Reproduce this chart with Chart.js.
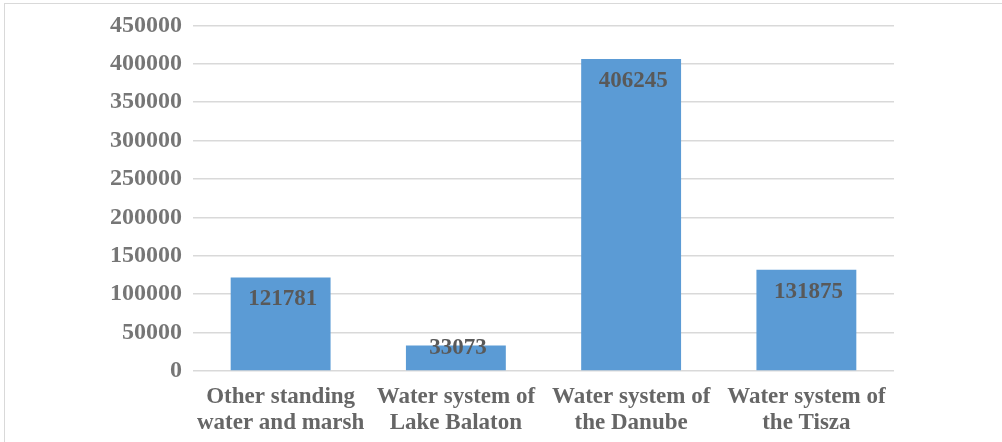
<!DOCTYPE html>
<html>
<head>
<meta charset="utf-8">
<script src="https://cdn.jsdelivr.net/npm/chart.js@4/dist/chart.umd.min.js"></script>
<style>
  html, body { margin: 0; padding: 0; background: #fff; }
  #wrap { position: relative; width: 1002px; height: 442px; overflow: hidden; }
  #frame { position: absolute; left: 4px; top: 3px; width: 1100px; height: 500px;
           border-left: 1.5px solid #d9d9d9; border-top: 1.5px solid #d9d9d9; }
  canvas { position: absolute; left: 0; top: 0; }
</style>
</head>
<body>
<div id="wrap">
  <div id="frame"></div>
  <canvas id="chart" width="1002" height="442"></canvas>
</div>
<script>
// Data
const categories = [
    ['Other standing', 'water and marsh'],
    ['Water system of', 'Lake Balaton'],
    ['Water system of', 'the Danube'],
    ['Water system of', 'the Tisza']
];
const values = [121781, 33073, 406245, 131875];
const yMax = 450000;
const yStep = 50000;

const serif = "'Liberation Serif', 'Times New Roman', serif";

// Value labels inside the top of each bar (kept off the axis for short bars)
const barLabels = {
    id: 'barLabels',
    afterDatasetsDraw(chart) {
        const ctx = chart.ctx;
        const meta = chart.getDatasetMeta(0);
        ctx.save();
        ctx.font = 'bold 23px ' + serif;
        ctx.fillStyle = '#595959';
        ctx.textAlign = 'center';
        ctx.textBaseline = 'middle';
        meta.data.forEach((bar, i) => {
            const y = Math.min(bar.y + 22, bar.base - 22);
            ctx.fillText(String(values[i]), bar.x + 2, y);
        });
        ctx.restore();
    }
};

Chart.defaults.font.family = serif;

new Chart(document.getElementById('chart').getContext('2d'), {
    type: 'bar',
    data: {
        labels: categories,
        datasets: [{
            data: values,
            backgroundColor: '#5b9bd5',
            borderWidth: 0,
            categoryPercentage: 1,
            barPercentage: 0.57
        }]
    },
    options: {
        responsive: false,
        animation: false,
        devicePixelRatio: 1,
        layout: { padding: { top: 25, right: 108, left: 0, bottom: 0 } },
        plugins: {
            legend: { display: false },
            tooltip: { enabled: false }
        },
        scales: {
            x: {
                grid: { display: false },
                border: { display: false },
                ticks: {
                    color: '#666666',
                    font: { size: 23, weight: 'bold', lineHeight: 1.13 },
                    padding: 5,
                    maxRotation: 0,
                    autoSkip: false
                },
                afterFit(scale) { scale.height = 71; }
            },
            y: {
                min: 0,
                max: yMax,
                grid: { color: '#d9d9d9', lineWidth: 1.5, drawTicks: false },
                border: { display: false },
                ticks: {
                    stepSize: yStep,
                    color: '#767676',
                    font: { size: 24, weight: 'bold' },
                    padding: 11,
                    callback: (value) => String(value)
                },
                afterFit(scale) { scale.width = 193; }
            }
        }
    },
    plugins: [barLabels]
});
</script>
</body>
</html>
